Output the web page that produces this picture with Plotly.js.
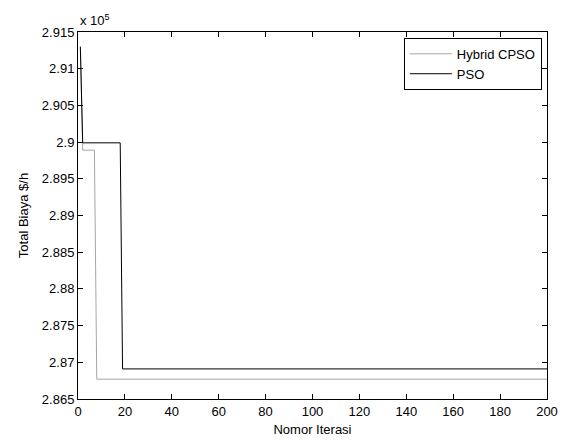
<!DOCTYPE html>
<html>
<head>
<meta charset="utf-8">
<script src="https://cdn.plot.ly/plotly-3.0.1.min.js"></script>
<style>html,body{margin:0;padding:0;background:#fff;}#chart{width:567px;height:441px;}</style>
</head>
<body>
<div id="chart"></div>
<script>
// Iteration breakpoints and total cost values ($/h)
const hybridIter = [1, 2, 7, 8, 200];
const hybridCost = [291300, 289890, 289890, 286770, 286770];
const psoIter = [1, 2, 18, 19, 200];
const psoCost = [291300, 289990, 289990, 286910, 286910];
const seriesNames = ["Hybrid CPSO", "PSO"];
const xTicks = [0, 20, 40, 60, 80, 100, 120, 140, 160, 180, 200];
const yTicks = [2.865, 2.87, 2.875, 2.88, 2.885, 2.89, 2.895, 2.9, 2.905, 2.91, 2.915];
const scale = 1e5;

const font = {family: "Liberation Sans, Arial, sans-serif", size: 13, color: "#000"};

const traces = [
  {x: hybridIter, y: hybridCost.map(v => v / scale), name: seriesNames[0], mode: "lines",
   line: {color: "#a6a6a6", width: 1}},
  {x: psoIter, y: psoCost.map(v => v / scale), name: seriesNames[1], mode: "lines",
   line: {color: "#000000", width: 1}}
];

const layout = {
  width: 567, height: 441,
  margin: {l: 78, r: 20, t: 32, b: 42},
  paper_bgcolor: "#fff", plot_bgcolor: "#fff",
  font: font,
  showlegend: true,
  legend: {x: 0.989, y: 0.984, xanchor: "right", yanchor: "top",
           bordercolor: "#000", borderwidth: 1, bgcolor: "#fff",
           font: font, itemwidth: 42, tracegroupgap: 0},
  xaxis: {range: [0, 200], tickvals: xTicks, ticktext: xTicks.map(String),
          ticks: "inside", ticklen: 5, tickcolor: "#000", mirror: "ticks",
          showline: true, linecolor: "#000", linewidth: 1, showgrid: false, zeroline: false,
          tickfont: font,
          title: {text: "Nomor Iterasi", font: font, standoff: 7}},
  yaxis: {range: [2.865, 2.915], tickvals: yTicks, ticktext: yTicks.map(v => String(+v.toFixed(3))),
          ticks: "inside", ticklen: 5, tickcolor: "#000", mirror: "ticks",
          showline: true, linecolor: "#000", linewidth: 1, showgrid: false, zeroline: false,
          tickfont: font,
          title: {text: "Total Biaya $/h", font: font, standoff: 10}},
  annotations: [{xref: "paper", yref: "paper", x: 0, y: 1, xanchor: "left", yanchor: "bottom",
                 yshift: 2, showarrow: false, text: "x 10<sup>5</sup>", font: font}]
};

Plotly.newPlot("chart", traces, layout, {displayModeBar: false, staticPlot: true});
</script>
</body>
</html>
